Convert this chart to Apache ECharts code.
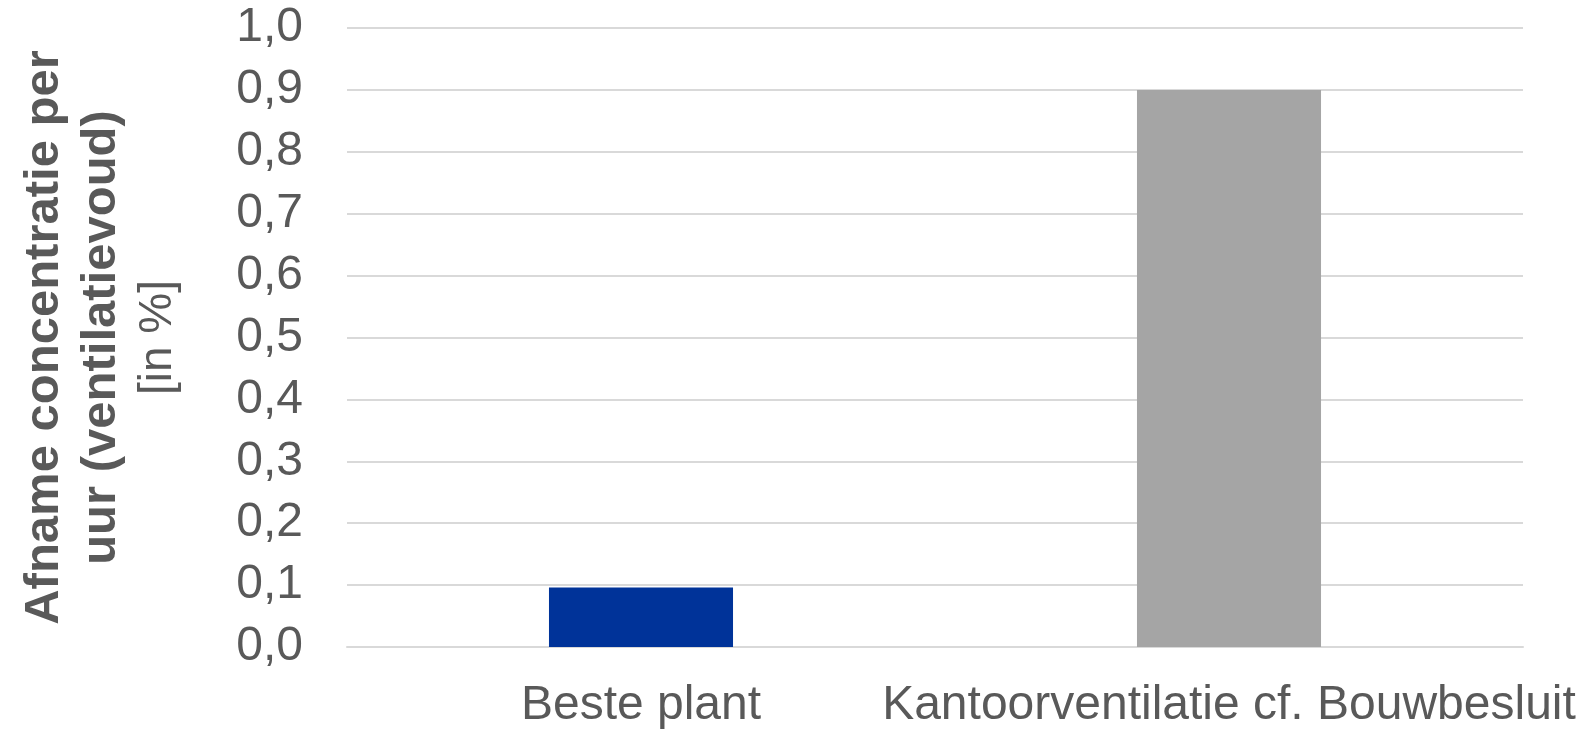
<!DOCTYPE html>
<html>
<head>
<meta charset="utf-8">
<script src="https://cdn.jsdelivr.net/npm/echarts@6/dist/echarts.min.js"></script>
<style>
html,body{margin:0;padding:0;background:#fff;}
#chart{width:1586px;height:731px;}
</style>
</head>
<body>
<div id="chart"></div>
<script>
const categories = ['Beste plant', 'Kantoorventilatie cf. Bouwbesluit'];
const values = [0.096, 0.9];
const barColors = ['#003399', '#a5a5a5'];
const yTitleBold = ['Afname concentratie per', 'uur (ventilatievoud)'];
const yTitleUnit = '[in %]';

const chart = echarts.init(document.getElementById('chart'), null, {renderer: 'canvas'});
const font = '"Liberation Sans", Arial, sans-serif';
chart.setOption({
  animation: false,
  textStyle: {fontFamily: font},
  grid: {left: 347, right: 63, top: 28, bottom: 84},
  xAxis: {
    type: 'category',
    data: categories,
    axisLine: {show: true, lineStyle: {color: '#d9d9d9', width: 2}},
    axisTick: {show: false},
    axisLabel: {color: '#595959', fontSize: 48, fontFamily: font, margin: 35, interval: 0}
  },
  yAxis: {
    type: 'value',
    min: 0, max: 1, interval: 0.1,
    axisLine: {show: false},
    axisTick: {show: false},
    splitLine: {lineStyle: {color: '#d9d9d9', width: 2}},
    axisLabel: {
      color: '#595959', fontSize: 48, fontFamily: font, margin: 44,
      formatter: v => v.toFixed(1).replace('.', ',')
    },
    name: yTitleBold.map(s => '{b|' + s + '}').join('\n') + '\n{r|' + yTitleUnit + '}',
    nameLocation: 'middle',
    nameRotate: 90,
    nameGap: 160,
    nameTextStyle: {
      color: '#595959',
      rich: {
        b: {fontSize: 49, fontWeight: 'bold', color: '#595959', fontFamily: font, lineHeight: 57},
        r: {fontSize: 46, color: '#595959', fontFamily: font, lineHeight: 57}
      }
    }
  },
  series: [{
    type: 'bar',
    barWidth: '31.3%',
    data: values.map((v, i) => ({value: v, itemStyle: {color: barColors[i]}}))
  }]
});
</script>
</body>
</html>
